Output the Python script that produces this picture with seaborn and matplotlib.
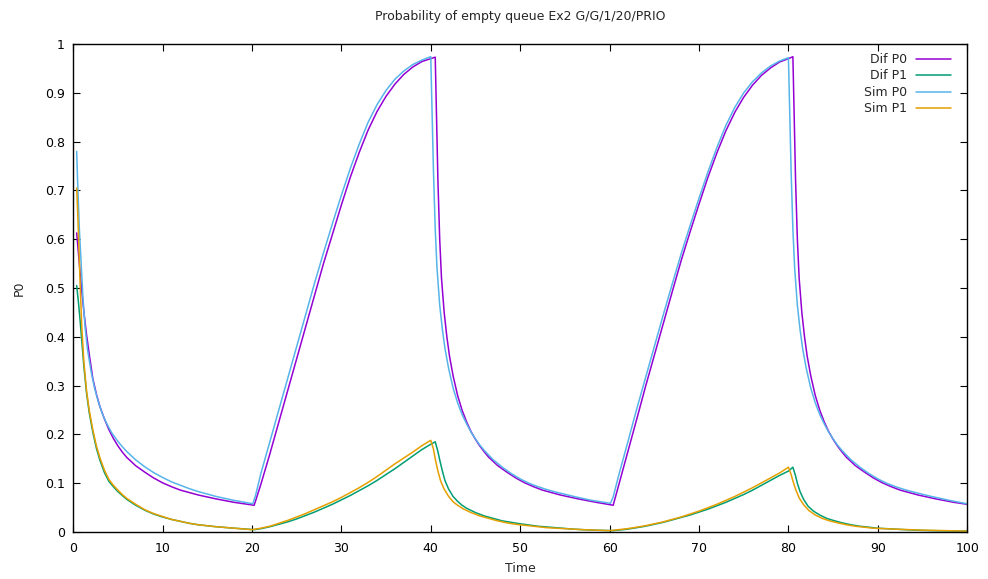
import pandas as pd
import matplotlib
matplotlib.use('Agg')
import matplotlib.pyplot as plt
import seaborn as sns

# --- values ---
dif_p0_t = [0.4, 0.6, 0.8, 1.0, 1.2, 1.5, 1.8, 2.2, 2.6, 3.0, 3.5, 4.0, 4.5, 5.0, 5.5, 6, 7, 8, 9, 10, 11, 12, 13, 14, 16, 18, 20.25,
            21, 22, 23, 24, 25, 26, 27, 28, 29, 30, 31, 32, 33, 34, 35, 36, 37, 38, 39, 40, 40.5,
            40.8, 41.0, 41.2, 41.5, 41.8, 42.1, 42.5, 43.0, 43.5, 44.0, 44.5, 45, 45.5, 46, 46.5, 47.5, 48.5, 49.5,
            50.5, 51.5, 52.5, 53.5, 54.5, 56.5, 58.5, 60.4,
            61, 62, 63, 64, 65, 66, 67, 68, 69, 70, 71, 72, 73, 74, 75, 76, 77, 78, 79, 80, 80.5,
            80.8, 81.0, 81.2, 81.5, 81.8, 82.1, 82.5, 83.0, 83.5, 84.0, 84.5, 85, 85.5, 86, 86.5, 87.5, 88.5, 89.5,
            90.5, 91.5, 92.5, 93.5, 94.5, 96.5, 98.5, 100]
dif_p0 = [0.613, 0.57, 0.528, 0.488, 0.452, 0.405, 0.365, 0.315, 0.283, 0.257, 0.232, 0.21, 0.192, 0.177, 0.164, 0.153, 0.136,
          0.123, 0.111, 0.101, 0.093, 0.086, 0.081, 0.076, 0.068, 0.061, 0.055,
          0.098, 0.16, 0.225, 0.29, 0.355, 0.42, 0.485, 0.55, 0.61, 0.67, 0.727, 0.778, 0.824, 0.862, 0.893, 0.918, 0.938, 0.953, 0.964, 0.97, 0.973,
          0.72, 0.60, 0.52, 0.45, 0.40, 0.36, 0.32, 0.28, 0.25, 0.226, 0.206, 0.19, 0.176, 0.164, 0.153, 0.136, 0.123, 0.111,
          0.101, 0.093, 0.086, 0.081, 0.076, 0.068, 0.061, 0.055,
          0.095, 0.162, 0.229, 0.297, 0.362, 0.427, 0.492, 0.556, 0.615, 0.672, 0.727, 0.777, 0.822, 0.86, 0.891, 0.916, 0.936, 0.951, 0.963, 0.97, 0.974,
          0.72, 0.60, 0.52, 0.45, 0.40, 0.36, 0.32, 0.28, 0.25, 0.226, 0.206, 0.19, 0.176, 0.164, 0.153, 0.136, 0.123, 0.111,
          0.101, 0.093, 0.086, 0.081, 0.076, 0.068, 0.061, 0.057]

sim_p0_t = [0.4, 0.5, 0.7, 0.9, 1.1, 1.34, 1.6, 2.0, 2.4, 2.8, 3.3, 3.8, 4.3, 5, 5.5, 6, 7, 8, 9, 10, 11, 12, 13, 14, 16, 18, 20.1,
            20.4, 21, 22, 23, 24, 25, 26, 27, 28, 29, 30, 31, 32, 33, 34, 35, 36, 37, 38, 39, 40,
            40.3, 40.5, 40.7, 41.0, 41.3, 41.6, 42.0, 42.5, 43.0, 43.5, 44.0, 44.5, 45, 45.5, 46, 47, 48, 49, 50,
            51, 52, 53, 54, 56, 58, 60.1,
            60.4, 61, 62, 63, 64, 65, 66, 67, 68, 69, 70, 71, 72, 73, 74, 75, 76, 77, 78, 79, 80,
            80.3, 80.5, 80.7, 81.0, 81.3, 81.6, 82.0, 82.5, 83.0, 83.5, 84.0, 84.5, 85, 85.5, 86, 87, 88, 89, 90,
            91, 92, 93, 94, 96, 98, 100]
sim_p0 = [0.78, 0.72, 0.62, 0.55, 0.48, 0.42, 0.375, 0.33, 0.295, 0.268, 0.241, 0.221, 0.204, 0.186, 0.175, 0.165, 0.148,
          0.134, 0.122, 0.112, 0.103, 0.096, 0.089, 0.083, 0.073, 0.065, 0.058,
          0.075, 0.12, 0.185, 0.25, 0.315, 0.38, 0.445, 0.51, 0.572, 0.632, 0.69, 0.745, 0.795, 0.84, 0.876, 0.905, 0.928, 0.945, 0.958, 0.967, 0.974,
          0.74, 0.62, 0.54, 0.465, 0.415, 0.375, 0.335, 0.295, 0.265, 0.241, 0.222, 0.205, 0.191, 0.178, 0.167, 0.148, 0.133, 0.12, 0.109,
          0.1, 0.093, 0.087, 0.082, 0.073, 0.065, 0.059,
          0.072, 0.115, 0.182, 0.25, 0.315, 0.38, 0.445, 0.508, 0.57, 0.628, 0.684, 0.738, 0.788, 0.833, 0.87, 0.9, 0.923, 0.941, 0.955, 0.965, 0.972,
          0.74, 0.62, 0.54, 0.465, 0.415, 0.375, 0.335, 0.295, 0.265, 0.241, 0.222, 0.205, 0.191, 0.178, 0.167, 0.148, 0.133, 0.12, 0.109,
          0.1, 0.093, 0.087, 0.082, 0.073, 0.065, 0.058]

dif_p1_t = [0.4, 0.6, 0.8, 1.0, 1.2, 1.5, 1.8, 2.2, 2.6, 3.0, 3.5, 4.0, 4.5, 5, 5.5, 6, 7, 8, 9, 10, 11, 12, 13, 14, 16, 18, 20.25,
            21, 22, 23, 24, 25, 26, 27, 28, 29, 30, 31, 32, 33, 34, 35, 36, 37, 38, 39, 40, 40.5,
            40.8, 41.0, 41.3, 41.6, 42.0, 42.5, 43.0, 43.5, 44, 45, 46, 47, 48, 49, 50, 52, 54, 56, 58, 60.4,
            61, 62, 63, 64, 65, 66, 67, 68, 69, 70, 71, 72, 73, 74, 75, 76, 77, 78, 79, 80, 80.5,
            80.8, 81.0, 81.3, 81.7, 82.2, 82.8, 83.5, 84.3, 85, 86, 87, 88, 90, 92, 94, 96, 100]
dif_p1 = [0.505, 0.47, 0.43, 0.385, 0.34, 0.285, 0.245, 0.205, 0.172, 0.147, 0.122, 0.104, 0.093, 0.083, 0.075, 0.067, 0.055,
          0.045, 0.037, 0.031, 0.026, 0.022, 0.018, 0.015, 0.011, 0.008, 0.005,
          0.007, 0.011, 0.016, 0.021, 0.027, 0.034, 0.041, 0.049, 0.057, 0.066, 0.075, 0.085, 0.095, 0.106, 0.118, 0.13, 0.143, 0.156, 0.169, 0.18, 0.185,
          0.165, 0.148, 0.125, 0.105, 0.088, 0.073, 0.063, 0.055, 0.049, 0.04, 0.033, 0.028, 0.023, 0.02, 0.017, 0.012, 0.009, 0.006, 0.004, 0.003,
          0.004, 0.006, 0.009, 0.012, 0.016, 0.02, 0.025, 0.03, 0.035, 0.041, 0.047, 0.054, 0.061, 0.069, 0.077, 0.086, 0.096, 0.106, 0.116, 0.125, 0.133,
          0.115, 0.10, 0.083, 0.067, 0.053, 0.043, 0.035, 0.028, 0.024, 0.019, 0.015, 0.012, 0.008, 0.006, 0.004, 0.003, 0.002]

sim_p1_t = [0.4, 0.5, 0.6, 0.8, 0.97, 1.2, 1.5, 1.8, 2.2, 2.6, 3.0, 3.5, 4.0, 4.5, 5, 5.5, 6, 7, 8, 9, 10, 11, 12, 13, 14, 16, 18, 20.0,
            21, 22, 23, 24, 25, 26, 27, 28, 29, 30, 31, 32, 33, 34, 35, 36, 37, 38, 39, 40,
            40.3, 40.5, 40.8, 41.1, 41.5, 42.0, 42.5, 43.0, 43.6, 44.5, 45.5, 46.5, 47.5, 48.5, 49.5, 51, 53, 55, 57, 60,
            61, 62, 63, 64, 65, 66, 67, 68, 69, 70, 71, 72, 73, 74, 75, 76, 77, 78, 79, 80,
            80.3, 80.5, 80.8, 81.2, 81.7, 82.3, 83, 83.8, 84.6, 85.5, 86.5, 87.5, 89.5, 92, 95, 100]
sim_p1 = [0.705, 0.66, 0.61, 0.5, 0.42, 0.35, 0.29, 0.25, 0.21, 0.177, 0.152, 0.127, 0.108, 0.096, 0.086, 0.077, 0.069, 0.057,
          0.046, 0.038, 0.032, 0.026, 0.022, 0.018, 0.015, 0.011, 0.008, 0.005,
          0.008, 0.012, 0.018, 0.024, 0.031, 0.038, 0.046, 0.054, 0.062, 0.071, 0.081, 0.091, 0.102, 0.114, 0.127, 0.14, 0.152, 0.164, 0.177, 0.188,
          0.17, 0.15, 0.125, 0.105, 0.088, 0.073, 0.062, 0.055, 0.048, 0.04, 0.033, 0.028, 0.023, 0.019, 0.016, 0.013, 0.009, 0.007, 0.005, 0.003,
          0.005, 0.007, 0.01, 0.013, 0.017, 0.021, 0.026, 0.031, 0.037, 0.043, 0.05, 0.057, 0.065, 0.073, 0.082, 0.091, 0.101, 0.111, 0.121, 0.133,
          0.118, 0.105, 0.088, 0.07, 0.056, 0.044, 0.035, 0.028, 0.023, 0.019, 0.015, 0.012, 0.008, 0.006, 0.004, 0.002]

x_ticks = list(range(0, 101, 10))
y_ticks = [0, 0.1, 0.2, 0.3, 0.4, 0.5, 0.6, 0.7, 0.8, 0.9, 1]
y_tick_labels = ['0', '0.1', '0.2', '0.3', '0.4', '0.5', '0.6', '0.7', '0.8', '0.9', '1']

series = [
    ('Dif P0', dif_p0_t, dif_p0, '#9400d3'),
    ('Dif P1', dif_p1_t, dif_p1, '#009e73'),
    ('Sim P0', sim_p0_t, sim_p0, '#56b4e9'),
    ('Sim P1', sim_p1_t, sim_p1, '#e69f00'),
]

sns.set_theme(style="ticks")
plt.rcParams['font.family'] = ['DejaVu Sans']

fig, ax = plt.subplots(figsize=(9.88, 5.79), dpi=100)
fig.subplots_adjust(left=0.074, right=0.979, top=0.924, bottom=0.081)

for name, t, v, col in series:
    df = pd.DataFrame({'Time': t, 'P0': v})
    sns.lineplot(data=df, x='Time', y='P0', ax=ax, color=col, label=name,
                 linewidth=1.1, sort=False, estimator=None)

ax.set_xlim(0, 100)
ax.set_ylim(0, 1)
ax.set_xticks(x_ticks)
ax.set_yticks(y_ticks)
ax.set_yticklabels(y_tick_labels)
ax.tick_params(direction='in', length=5, width=0.8, top=True, right=True,
               labelsize=9, colors='black', pad=6)
ax.tick_params(axis='x', pad=7)
for s in ax.spines.values():
    s.set_linewidth(1.0)
    s.set_color('black')

ax.set_title('Probability of empty queue Ex2 G/G/1/20/PRIO', fontsize=9, pad=17)
ax.set_xlabel('Time', fontsize=9, labelpad=5)
ax.set_ylabel('P0', fontsize=9, labelpad=14)

ax.legend(loc='upper right', bbox_to_anchor=(0.987, 0.992), frameon=False, markerfirst=False,
          fontsize=9, handlelength=2.8, labelspacing=0.28, borderaxespad=0.0, handletextpad=0.7)

fig.savefig('out.png', dpi=100)
plt.close(fig)
